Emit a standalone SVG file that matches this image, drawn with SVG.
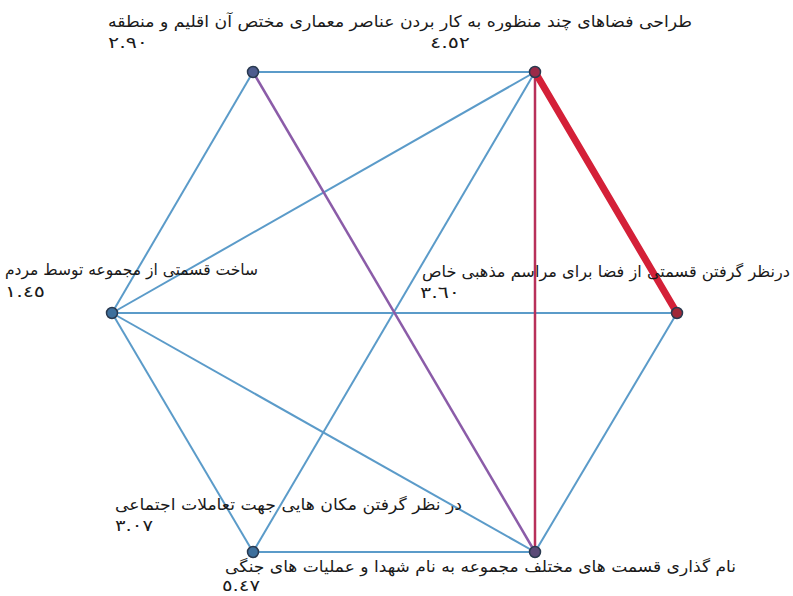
<svg xmlns="http://www.w3.org/2000/svg" width="793" height="596" viewBox="0 0 793 596">
<style>
.e{stroke:#5b9bc9;stroke-width:2;fill:none}
.p{stroke:#8b5ca8;stroke-width:2.5;fill:none}
.r{stroke:#b8305a;stroke-width:2.5;fill:none}
.t{stroke:#d42038;stroke-width:7;fill:none;stroke-linecap:round}
.n{stroke:#2a3a50;stroke-width:1.5}
text{font-family:"DejaVu Sans",sans-serif;font-size:16px;fill:#1a1a1a}
.l{direction:rtl;text-anchor:start}
</style>
<rect width="793" height="596" fill="#ffffff"/>
<g id="connectors">
<line class="e" x1="253" y1="72" x2="535" y2="72"/>
<line class="e" x1="253" y1="72" x2="112" y2="313"/>
<line class="e" x1="535" y1="72" x2="112" y2="313"/>
<line class="e" x1="535" y1="72" x2="253" y2="552"/>
<line class="e" x1="112" y1="313" x2="677" y2="313"/>
<line class="e" x1="112" y1="313" x2="253" y2="552"/>
<line class="e" x1="112" y1="313" x2="535" y2="552"/>
<line class="e" x1="253" y1="552" x2="535" y2="552"/>
<line class="e" x1="677" y1="313" x2="535" y2="552"/>
<line class="p" x1="253" y1="72" x2="535" y2="552"/>
<line class="r" x1="535" y1="72" x2="535" y2="552"/>
<line class="t" x1="535" y1="72" x2="677" y2="313"/>
</g>
<g id="node-top-left"><circle class="n" cx="253" cy="72" r="5.5" fill="#4e5c8e"/></g>
<g id="node-top-right"><circle class="n" cx="535" cy="72" r="5.5" fill="#9a2a48"/></g>
<g id="node-left"><circle class="n" cx="112" cy="313" r="5.5" fill="#3d6f9c"/></g>
<g id="node-right"><circle class="n" cx="677" cy="313" r="5.5" fill="#a02838"/></g>
<g id="node-bottom-left"><circle class="n" cx="253" cy="552" r="5.5" fill="#3d6f9c"/></g>
<g id="node-bottom-right"><circle class="n" cx="535" cy="552" r="5.5" fill="#5a4a78"/></g>
<g id="labels">
<text class="l" x="692" y="27" textLength="584" lengthAdjust="spacingAndGlyphs">طراحی فضاهای چند منظوره به کار بردن عناصر معماری مختص آن اقلیم و منطقه</text>
<text x="108" y="48" textLength="40" lengthAdjust="spacingAndGlyphs">٢.٩٠</text>
<text x="430" y="48" textLength="40" lengthAdjust="spacingAndGlyphs">٤.٥٢</text>
<text class="l" x="258" y="275" textLength="253" lengthAdjust="spacingAndGlyphs">ساخت قسمتی از مجموعه توسط مردم</text>
<text x="5" y="297" textLength="40" lengthAdjust="spacingAndGlyphs">١.٤٥</text>
<text class="l" x="790" y="277" textLength="368" lengthAdjust="spacingAndGlyphs">درنظر گرفتن قسمتی از فضا برای مراسم مذهبی خاص</text>
<text x="420" y="298" textLength="40" lengthAdjust="spacingAndGlyphs">٣.٦٠</text>
<text class="l" x="462" y="510" textLength="347" lengthAdjust="spacingAndGlyphs">در نظر گرفتن مکان هایی جهت تعاملات اجتماعی</text>
<text x="115" y="531" textLength="38" lengthAdjust="spacingAndGlyphs">٣.٠٧</text>
<text class="l" x="736" y="572" textLength="511" lengthAdjust="spacingAndGlyphs">نام گذاری قسمت های مختلف مجموعه به نام شهدا و عملیات های جنگی</text>
<text x="222" y="591" textLength="38" lengthAdjust="spacingAndGlyphs">٥.٤٧</text>
</g>
</svg>
